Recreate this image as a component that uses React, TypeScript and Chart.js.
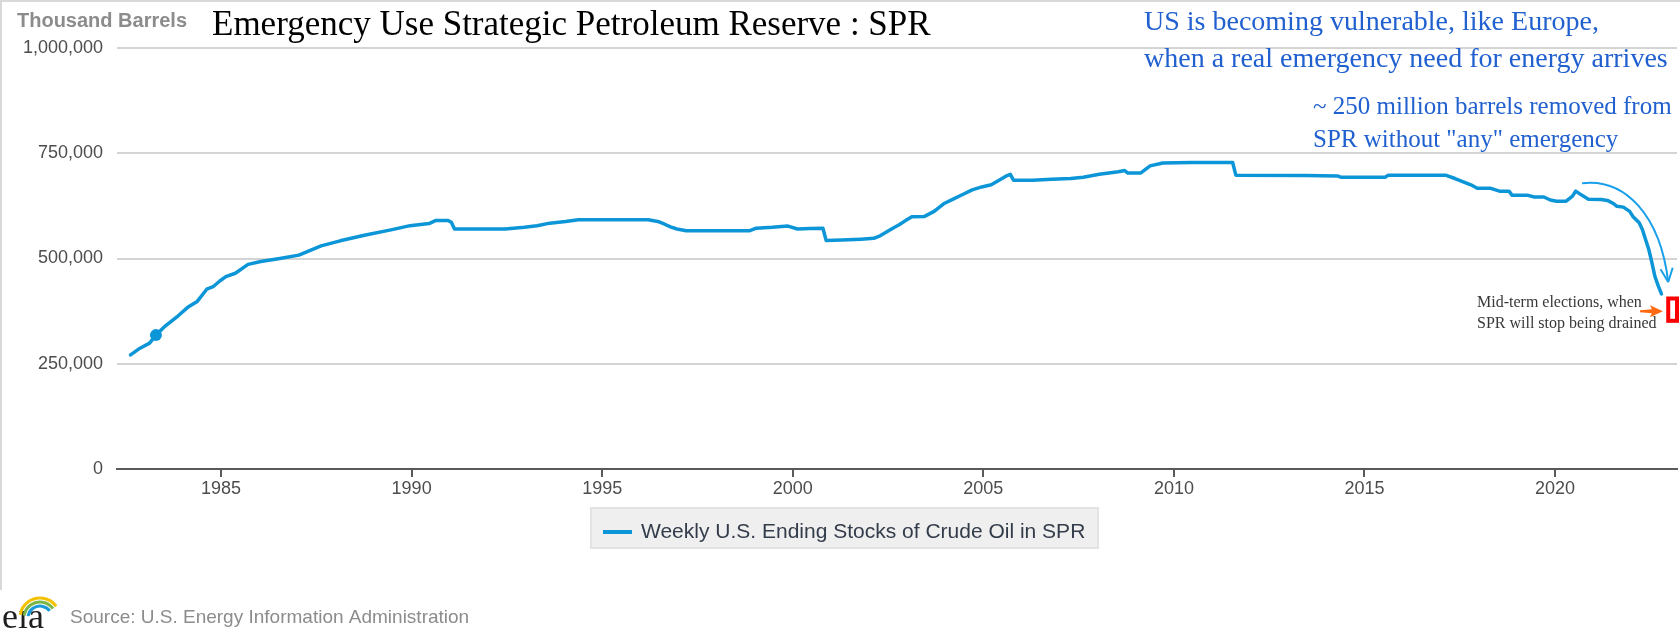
import React, { useEffect, useRef } from 'react';
import { Chart, registerables } from 'chart.js';

Chart.register(...registerables);

// ---- data (thousand barrels, month of observation) ----
const dates: string[] = [
  '1982-08', '1982-11', '1983-02', '1983-04', '1983-07', '1983-11', '1984-02', '1984-05', '1984-08', '1984-10',
  '1984-12', '1985-02', '1985-05', '1985-09', '1986-01', '1986-07', '1987-01', '1987-08', '1988-02', '1988-10',
  '1989-06', '1989-12', '1990-06', '1990-08', '1990-12', '1991-01', '1991-02', '1992-06', '1992-12', '1993-04',
  '1993-08', '1994-01', '1994-05', '1996-03', '1996-06', '1996-08', '1996-10', '1996-12', '1997-03', '1998-11',
  '1999-01', '1999-06', '1999-11', '2000-02', '2000-06', '2000-10', '2000-11', '2001-04', '2001-10', '2002-02',
  '2002-04', '2002-06', '2002-08', '2002-10', '2002-12', '2003-02', '2003-06', '2003-09', '2003-12', '2004-03',
  '2004-06', '2004-09', '2004-12', '2005-03', '2005-06', '2005-08', '2005-09', '2005-10', '2006-04', '2006-10',
  '2007-04', '2007-08', '2008-01', '2008-07', '2008-09', '2008-10', '2009-02', '2009-05', '2009-09', '2010-06',
  '2011-07', '2011-08', '2013-06', '2014-04', '2014-05', '2015-07', '2015-08', '2017-02', '2017-05', '2017-08',
  '2017-10', '2017-12', '2018-04', '2018-07', '2018-10', '2018-11', '2019-04', '2019-06', '2019-09', '2019-11',
  '2020-01', '2020-04', '2020-06', '2020-07', '2020-09', '2020-11', '2021-03', '2021-05', '2021-07', '2021-08',
  '2021-10', '2021-12', '2022-01', '2022-03', '2022-04', '2022-05', '2022-06', '2022-07', '2022-08', '2022-09',
  '2022-10',
];

const stocks: number[] = [
  271000, 287000, 299000, 318000, 340000, 364000, 384000, 398000, 427000, 433000,
  446000, 457000, 465000, 486000, 493000, 500000, 508000, 530000, 542000, 556000,
  568000, 578000, 583000, 590000, 590000, 586000, 570000, 570000, 574000, 578000,
  584000, 588000, 592000, 592000, 588000, 582000, 575000, 570000, 566000, 566000,
  572000, 574000, 577000, 570000, 571000, 572000, 543000, 544000, 546000, 548000,
  554000, 563000, 572000, 580000, 590000, 599000, 600000, 612000, 630000, 641000,
  652000, 663000, 670000, 675000, 688000, 697000, 700000, 686000, 686000, 688000,
  690000, 693000, 700000, 706000, 709000, 703000, 703000, 720000, 727000, 728000,
  728000, 698000, 697000, 696000, 693000, 693000, 698000, 698000, 690000, 681000,
  675000, 667000, 667000, 660000, 660000, 650000, 650000, 646000, 646000, 639000,
  636000, 636000, 648000, 660000, 650000, 641000, 640000, 638000, 630000, 624000,
  622000, 612000, 600000, 585000, 569000, 545000, 522000, 490000, 456000, 435000,
  416000,
];

const markerDate = '1983-04';
const xTickYears: number[] = [1985, 1990, 1995, 2000, 2005, 2010, 2015, 2020];
const yTickValues: number[] = [0, 250000, 500000, 750000, 1000000];
const seriesLabel = 'Weekly U.S. Ending Stocks of Crude Oil in SPR';

const chartTitle = 'Emergency Use Strategic Petroleum Reserve : SPR';
const axisUnit = 'Thousand Barrels';
const noteTop = ['US is becoming vulnerable, like Europe,', 'when a real emergency need for energy arrives'];
const noteDrain = ['~ 250 million barrels removed from', 'SPR without "any" emergency'];
const noteMidterm = ['Mid-term elections, when', 'SPR will stop being drained'];
const sourceText = 'Source: U.S. Energy Information Administration';

// annotation anchors in data space: [year, thousand barrels]
const curveArrow: [number, number][] = [[2020.71, 679000], [2021.84, 691000], [2022.76, 603000], [2022.97, 444000]];
const orangeArrow: [number, number][] = [[2022.23, 375000], [2022.83, 375000]];
const redBox: [number, number][] = [[2022.97, 405000], [2023.2, 352000]];

const LINE_BLUE = '#0c96d8';
const SANS = '"Liberation Sans", Arial, sans-serif';
const SERIF = '"Liberation Serif", "Times New Roman", serif';

const toYear = (d: string) => {
  const [yy, mm] = d.split('-').map(Number);
  return yy + (mm - 0.5) / 12;
};

const decorPlugin = {
  id: 'decor',
  afterDraw(chart: any) {
    const { ctx } = chart;
    const xs = chart.scales.x;
    const ys = chart.scales.y;
    const px = (p: [number, number]) => [xs.getPixelForValue(p[0]), ys.getPixelForValue(p[1])];
    ctx.save();
    // frame
    ctx.fillStyle = '#d9d9d9';
    ctx.fillRect(0, 0, 1680, 2);
    ctx.fillRect(0, 0, 2, 590);

    ctx.textAlign = 'left';
    ctx.textBaseline = 'alphabetic';
    // unit
    ctx.font = `bold 20px ${SANS}`;
    ctx.fillStyle = '#8c8c8c';
    ctx.fillText(axisUnit, 17, 27);
    // title
    ctx.font = `35px ${SERIF}`;
    ctx.fillStyle = '#000000';
    ctx.fillText(chartTitle, 212, 35);
    // blue notes
    ctx.fillStyle = '#2160cf';
    ctx.font = `28px ${SERIF}`;
    ctx.fillText(noteTop[0], 1144, 30);
    ctx.fillText(noteTop[1], 1144, 67);
    ctx.font = `25px ${SERIF}`;
    ctx.fillText(noteDrain[0], 1313, 114);
    ctx.fillText(noteDrain[1], 1313, 147);
    // midterm note
    ctx.fillStyle = '#383838';
    ctx.font = `16px ${SERIF}`;
    ctx.fillText(noteMidterm[0], 1477, 307);
    ctx.fillText(noteMidterm[1], 1477, 328);

    // curved arrow
    const c = curveArrow.map(px);
    ctx.strokeStyle = '#1aa0ea';
    ctx.lineWidth = 2;
    ctx.beginPath();
    ctx.moveTo(c[0][0], c[0][1]);
    ctx.bezierCurveTo(c[1][0], c[1][1], c[2][0], c[2][1], c[3][0], c[3][1]);
    ctx.stroke();
    const ang = Math.atan2(c[3][1] - c[2][1], c[3][0] - c[2][0]);
    ctx.beginPath();
    for (const s of [-1, 1]) {
      const a = ang + Math.PI + s * 0.42;
      ctx.moveTo(c[3][0], c[3][1]);
      ctx.lineTo(c[3][0] + 15 * Math.cos(a), c[3][1] + 15 * Math.sin(a));
    }
    ctx.stroke();

    // orange arrow
    const o = orangeArrow.map(px);
    ctx.fillStyle = '#ff6a10';
    ctx.beginPath();
    ctx.moveTo(o[0][0], o[0][1] - 1);
    ctx.lineTo(o[1][0] - 11, o[0][1] - 2);
    ctx.lineTo(o[1][0] - 13, o[0][1] - 6);
    ctx.lineTo(o[1][0], o[1][1]);
    ctx.lineTo(o[1][0] - 13, o[0][1] + 6);
    ctx.lineTo(o[1][0] - 11, o[0][1] + 2);
    ctx.lineTo(o[0][0], o[0][1] + 1);
    ctx.closePath();
    ctx.fill();

    // red box
    const r = redBox.map(px);
    ctx.strokeStyle = '#ff0000';
    ctx.lineWidth = 4;
    ctx.strokeRect(r[0][0], r[0][1], r[1][0] - r[0][0], r[1][1] - r[0][1]);

    // legend
    ctx.fillStyle = '#efefef';
    ctx.fillRect(590, 507, 509, 42);
    ctx.strokeStyle = '#e3e3e3';
    ctx.lineWidth = 2;
    ctx.strokeRect(591, 508, 507, 40);
    ctx.fillStyle = LINE_BLUE;
    ctx.fillRect(603, 530, 29, 4);
    ctx.fillStyle = '#333c4a';
    ctx.font = `21px ${SANS}`;
    ctx.fillText(chart.data.datasets[0].label, 641, 538);

    // source + logo
    ctx.fillStyle = '#8c8c8c';
    ctx.font = `19px ${SANS}`;
    ctx.fillText(sourceText, 70, 623);
    ctx.fillStyle = '#1e1e1e';
    ctx.font = `36px ${SERIF}`;
    ctx.fillText('eıa', 2, 628);
    ctx.lineWidth = 3;
    const arcs: [string, number][] = [['#f2c200', 20], ['#7ab648', 16], ['#1a9ad9', 12]];
    arcs.forEach(([col, rad]) => {
      ctx.strokeStyle = col;
      ctx.beginPath();
      ctx.arc(40, 618, rad, -Math.PI * 0.95, -Math.PI * 0.2);
      ctx.stroke();
    });
    ctx.restore();
  },
};

export default function App() {
  const canvasRef = useRef<HTMLCanvasElement | null>(null);

  useEffect(() => {
    if (!canvasRef.current) return;
    const markerIdx = dates.indexOf(markerDate);
    const chart = new Chart(canvasRef.current, {
      type: 'line',
      data: {
        datasets: [
          {
            label: seriesLabel,
            data: dates.map((d, i) => ({ x: toYear(d), y: stocks[i] })),
            borderColor: LINE_BLUE,
            backgroundColor: LINE_BLUE,
            borderWidth: 3.5,
            borderJoinStyle: 'round',
            borderCapStyle: 'round',
            tension: 0,
            fill: false,
            pointRadius: (c: any) => (c.dataIndex === markerIdx ? 6 : 0),
            pointBackgroundColor: LINE_BLUE,
            pointBorderWidth: 0,
          } as any,
        ],
      },
      options: {
        animation: false,
        responsive: false,
        events: [],
        layout: { padding: { left: 0, right: 3, top: 48, bottom: 124 } },
        plugins: {
          legend: { display: false },
          tooltip: { enabled: false },
        },
        scales: {
          x: {
            type: 'linear',
            min: 1982.27,
            max: 2023.2,
            afterFit: (s: any) => {
              s.height = 40;
            },
            afterBuildTicks: (s: any) => {
              s.ticks = xTickYears.map((v) => ({ value: v }));
            },
            grid: {
              drawOnChartArea: false,
              drawTicks: true,
              tickLength: 8,
              color: '#5a5a5a',
              lineWidth: 2,
            },
            border: { display: true, color: '#5a5a5a', width: 2 },
            ticks: {
              autoSkip: false,
              maxRotation: 0,
              padding: 1,
              color: '#4d4d4d',
              font: { family: SANS, size: 18 },
              callback: (v: any) => String(v),
            },
          },
          y: {
            min: 0,
            max: 1000000,
            afterFit: (s: any) => {
              s.width = 117;
            },
            afterBuildTicks: (s: any) => {
              s.ticks = yTickValues.map((v) => ({ value: v }));
            },
            grid: { color: '#d4d4d4', lineWidth: 2, drawTicks: false },
            border: { display: false },
            ticks: {
              padding: 14,
              color: '#4d4d4d',
              font: { family: SANS, size: 18 },
              callback: (v: any) => Number(v).toLocaleString('en-US'),
            },
          },
        },
      } as any,
      plugins: [decorPlugin],
    });
    return () => chart.destroy();
  }, []);

  return (
    <div style={{ position: 'absolute', left: 0, top: 0, width: 1680, height: 633, background: '#ffffff' }}>
      <canvas ref={canvasRef} width={1680} height={633} style={{ width: 1680, height: 633, display: 'block' }} />
    </div>
  );
}
